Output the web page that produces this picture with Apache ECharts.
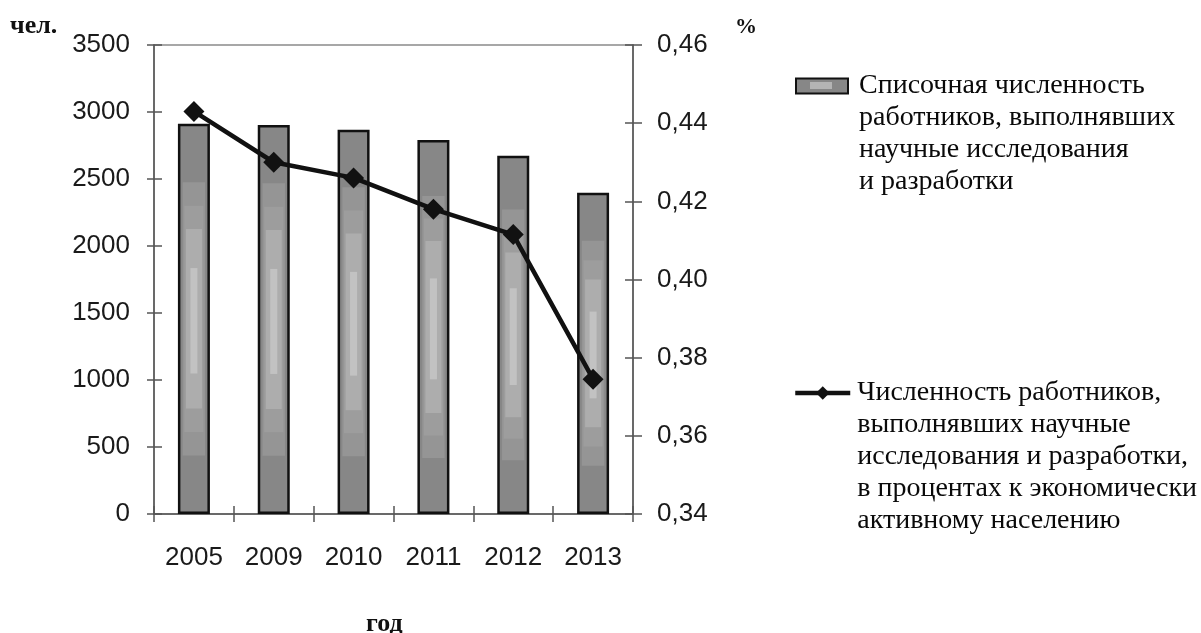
<!DOCTYPE html>
<html>
<head>
<meta charset="utf-8">
<script src="https://cdn.jsdelivr.net/npm/echarts@6/dist/echarts.min.js"></script>
<style>
  html, body { margin: 0; padding: 0; background: #fff; }
  #chart { width: 1201px; height: 633px; }
</style>
</head>
<body>
<div id="chart"></div>
<script>
// Годы наблюдения
const years = ['2005', '2009', '2010', '2011', '2012', '2013'];
// Списочная численность работников, выполнявших НИОКР, чел.
const staffCount = [2913, 2903, 2868, 2791, 2674, 2398];
// Доля работников НИОКР в экономически активном населении, %
const staffShare = [0.443, 0.430, 0.426, 0.418, 0.4115, 0.3745];

const leftTicks = { min: 0, max: 3500, interval: 500 };
const rightTicks = { min: 0.34, max: 0.46, interval: 0.02 };

const barName = 'Списочная численность\nработников, выполнявших\nнаучные исследования\nи разработки';
const lineName = 'Численность работников,\nвыполнявших научные\nисследования и разработки,\nв процентах к экономически\nактивному населению';

const sans = '"Liberation Sans", Arial, sans-serif';
const serif = '"Liberation Serif", "Times New Roman", serif';
const axisColor = '#555';
const BAR_W = 32;

// nested lighter panels inside each column: relative width, relative top/bottom, colour
const columnPanels = [
  { w: 0.70, y0: 0.15, y1: 0.85, color: '#959595' },
  { w: 0.60, y0: 0.21, y1: 0.79, color: '#9d9d9d' },
  { w: 0.50, y0: 0.27, y1: 0.73, color: '#adadad' },
  { w: 0.22, y0: 0.37, y1: 0.64, color: '#c2c2c2' }
];

const chart = echarts.init(document.getElementById('chart'), null, { renderer: 'canvas' });

const pct = v => v.toFixed(2).replace('.', ',');
const plain = v => String(Math.round(v));

// keep the legend marker level with the first line of a multi-line caption
function captionFirstLineAtMarker(name) {
  const lines = name.split('\n');
  return '\n'.repeat(lines.length - 1) + name;
}

function tickAxis(extra) {
  return Object.assign({
    axisLine: { show: false },
    axisLabel: { show: false },
    splitLine: { show: false },
    axisTick: { show: true, inside: true, length: 8, lineStyle: { color: axisColor, width: 1.5 } }
  }, extra);
}

function renderPanels(params, api) {
  const top = api.coord([api.value(0), api.value(1)]);
  const base = api.coord([api.value(0), 0]);
  const h = base[1] - top[1];
  return {
    type: 'group',
    children: columnPanels.map(p => ({
      type: 'rect',
      shape: {
        x: top[0] - BAR_W * p.w / 2,
        y: top[1] + h * p.y0,
        width: BAR_W * p.w,
        height: h * (p.y1 - p.y0)
      },
      style: { fill: p.color }
    }))
  };
}

const legendText = { fontFamily: serif, fontSize: 28, lineHeight: 32, color: '#0a0a0a' };

chart.setOption({
  animation: false,
  backgroundColor: '#fff',
  grid: {
    left: 154, right: 568, top: 45, bottom: 119,
    show: true, borderColor: '#8a8a8a', borderWidth: 1.5, backgroundColor: 'transparent'
  },
  legend: [
    {
      data: [{ name: barName, icon: 'rect' }],
      left: 795, top: -26, padding: 0,
      itemWidth: 52, itemHeight: 15,
      selectedMode: false,
      formatter: captionFirstLineAtMarker,
      textStyle: Object.assign({ padding: [0, 0, 0, 6] }, legendText)
    },
    {
      data: [lineName],
      left: 793, top: 249, padding: 0,
      itemWidth: 55, itemHeight: 17,
      selectedMode: false,
      formatter: captionFirstLineAtMarker,
      lineStyle: { width: 4.5, color: '#111' },
      textStyle: Object.assign({ padding: [0, 0, 0, 2] }, legendText)
    }
  ],
  xAxis: [
    {
      type: 'category', data: years, position: 'bottom',
      axisLine: { lineStyle: { color: axisColor, width: 1.5 } },
      axisTick: { show: true, length: 8, lineStyle: { color: axisColor, width: 1.5 } },
      axisLabel: { fontFamily: sans, fontSize: 26, color: '#1a1a1a', margin: 31 }
    },
    tickAxis({ type: 'category', data: years, position: 'bottom' })
  ],
  yAxis: [
    {
      type: 'value', position: 'left', ...leftTicks,
      axisLine: { show: true, lineStyle: { color: axisColor, width: 1.5 } },
      axisTick: { show: true, length: 7, lineStyle: { color: axisColor, width: 1.5 } },
      axisLabel: { fontFamily: sans, fontSize: 26, color: '#1a1a1a', margin: 24, formatter: plain },
      splitLine: { show: false }
    },
    {
      type: 'value', position: 'right', ...rightTicks,
      axisLine: { show: true, lineStyle: { color: axisColor, width: 1.5 } },
      axisTick: { show: true, length: 9, lineStyle: { color: axisColor, width: 1.5 } },
      axisLabel: { fontFamily: sans, fontSize: 26, color: '#1a1a1a', margin: 24, formatter: pct },
      splitLine: { show: false }
    },
    tickAxis({ type: 'value', position: 'left', ...leftTicks }),
    tickAxis({ type: 'value', position: 'right', ...rightTicks })
  ],
  series: [
    {
      name: barName, type: 'bar', data: staffCount,
      barWidth: BAR_W,
      itemStyle: { color: '#878787', borderColor: '#111', borderWidth: 2.5 },
      z: 2
    },
    {
      name: 'panels', type: 'custom', silent: true,
      data: staffCount.map((v, i) => [i, v]),
      encode: { x: 0, y: 1 },
      renderItem: renderPanels,
      z: 3
    },
    {
      name: lineName, type: 'line', data: staffShare, yAxisIndex: 1,
      symbol: 'diamond', symbolSize: 21,
      lineStyle: { color: '#111', width: 4.5 },
      itemStyle: { color: '#111' },
      z: 5
    }
  ],
  graphic: [
    { type: 'text', left: 10, top: 13, style: { text: 'чел.', font: 'bold 26px ' + serif, fill: '#111' } },
    { type: 'text', left: 735, top: 16, style: { text: '%', font: 'bold 22px ' + serif, fill: '#111' } },
    { type: 'text', left: 366, top: 611, style: { text: 'год', font: 'bold 26px ' + serif, fill: '#111' } },
    // light strip inside the column swatch of the first legend entry
    { type: 'rect', shape: { x: 810, y: 82, width: 22, height: 7 }, style: { fill: '#b4b4b4' }, z: 10 }
  ]
});
</script>
</body>
</html>
